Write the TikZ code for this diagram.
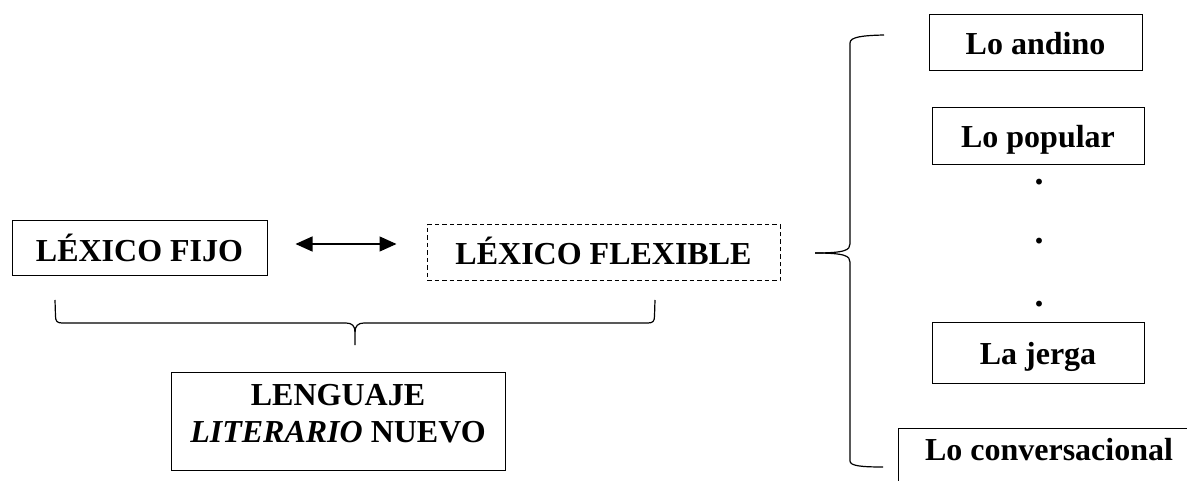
\documentclass[tikz,border=0pt]{standalone}
\usepackage{fontspec}
\setmainfont{Liberation Serif}
\usetikzlibrary{arrows.meta}
\newcommand\lexfont{\fontsize{32}{37}\selectfont\bfseries}
\tikzset{
  box/.style={draw, line width=1pt, font=\lexfont, inner sep=0pt,
              text height=26pt, text depth=3pt},
  flexbox/.style={box, dash pattern=on 4.5pt off 3pt},
  dotmark/.style={font=\fontsize{36}{40}\selectfont\bfseries, inner sep=0pt, anchor=base},
  brace/.style={line width=1.2pt, line join=round},
  twoway/.style={{Triangle[length=17pt,width=15pt]}-{Triangle[length=17pt,width=15pt]}, line width=1.3pt}
}
\begin{document}
\begin{tikzpicture}[x=1pt, y=-1pt]
\useasboundingbox (0,0) rectangle (1187,481);
\clip (0,0) rectangle (1187,481);

% left column
\node[box, minimum width=255, minimum height=55, text height=28pt, text depth=1pt]
  (fijo) at (139.5,248.5) {LÉXICO FIJO};
\node[flexbox, minimum width=353, minimum height=56] (flex) at (603.5,253) {LÉXICO FLEXIBLE};
% the base of a multi-line node is its last line
\node[box, minimum width=334, minimum height=98, align=center,
      text height=60pt, text depth=18pt] (nuevo) at (338,421)
      {LENGUAJE\\\textit{LITERARIO} NUEVO};

% two-way arrow between the lexicons
\draw[twoway, shorten <=28pt, shorten >=30pt]
  ([yshift=4.5pt]fijo.east) -- ([yshift=9pt]flex.west);

% brace under both lexicons
\draw[brace] (55,300) -- (55.5,316) .. controls (55.5,321) and (57,323) .. (62,323)
  -- (346,323) .. controls (352,323) and (355,326) .. (355,332) -- (355,345);
\draw[brace] (355,332) .. controls (355,326) and (358,323) .. (364,323)
  -- (648,323) .. controls (653,323) and (654.5,321) .. (654.5,316) -- (655,300);

% right column
\node[box, minimum width=213, minimum height=56] (andino) at (1035.5,43) {Lo andino};
\node[box, minimum width=212, minimum height=57] (popular) at (1038,136.5) {Lo popular};
\node[dotmark] (d1) at (1039,185) {.};
\node[dotmark] (d2) at (1039,244) {.};
\node[dotmark] (d3) at (1039,306) {.};
\node[box, minimum width=212, minimum height=60] (jerga) at (1038,353) {La jerga};
\node[box, minimum width=302, minimum height=90, text height=20pt, text depth=46pt]
  (conv) at (1049,473) {Lo conversacional};

% brace opening towards the right column
\draw[brace] (884,35) .. controls (862,35.5) and (850,37) .. (850,43) -- (850,244)
  .. controls (850,250) and (845,253) .. (815,253);
\draw[brace] (815,253) .. controls (845,253) and (850,256) .. (850,262) -- (850,461)
  .. controls (850,466) and (862,467) .. (883,467);
\end{tikzpicture}
\end{document}
